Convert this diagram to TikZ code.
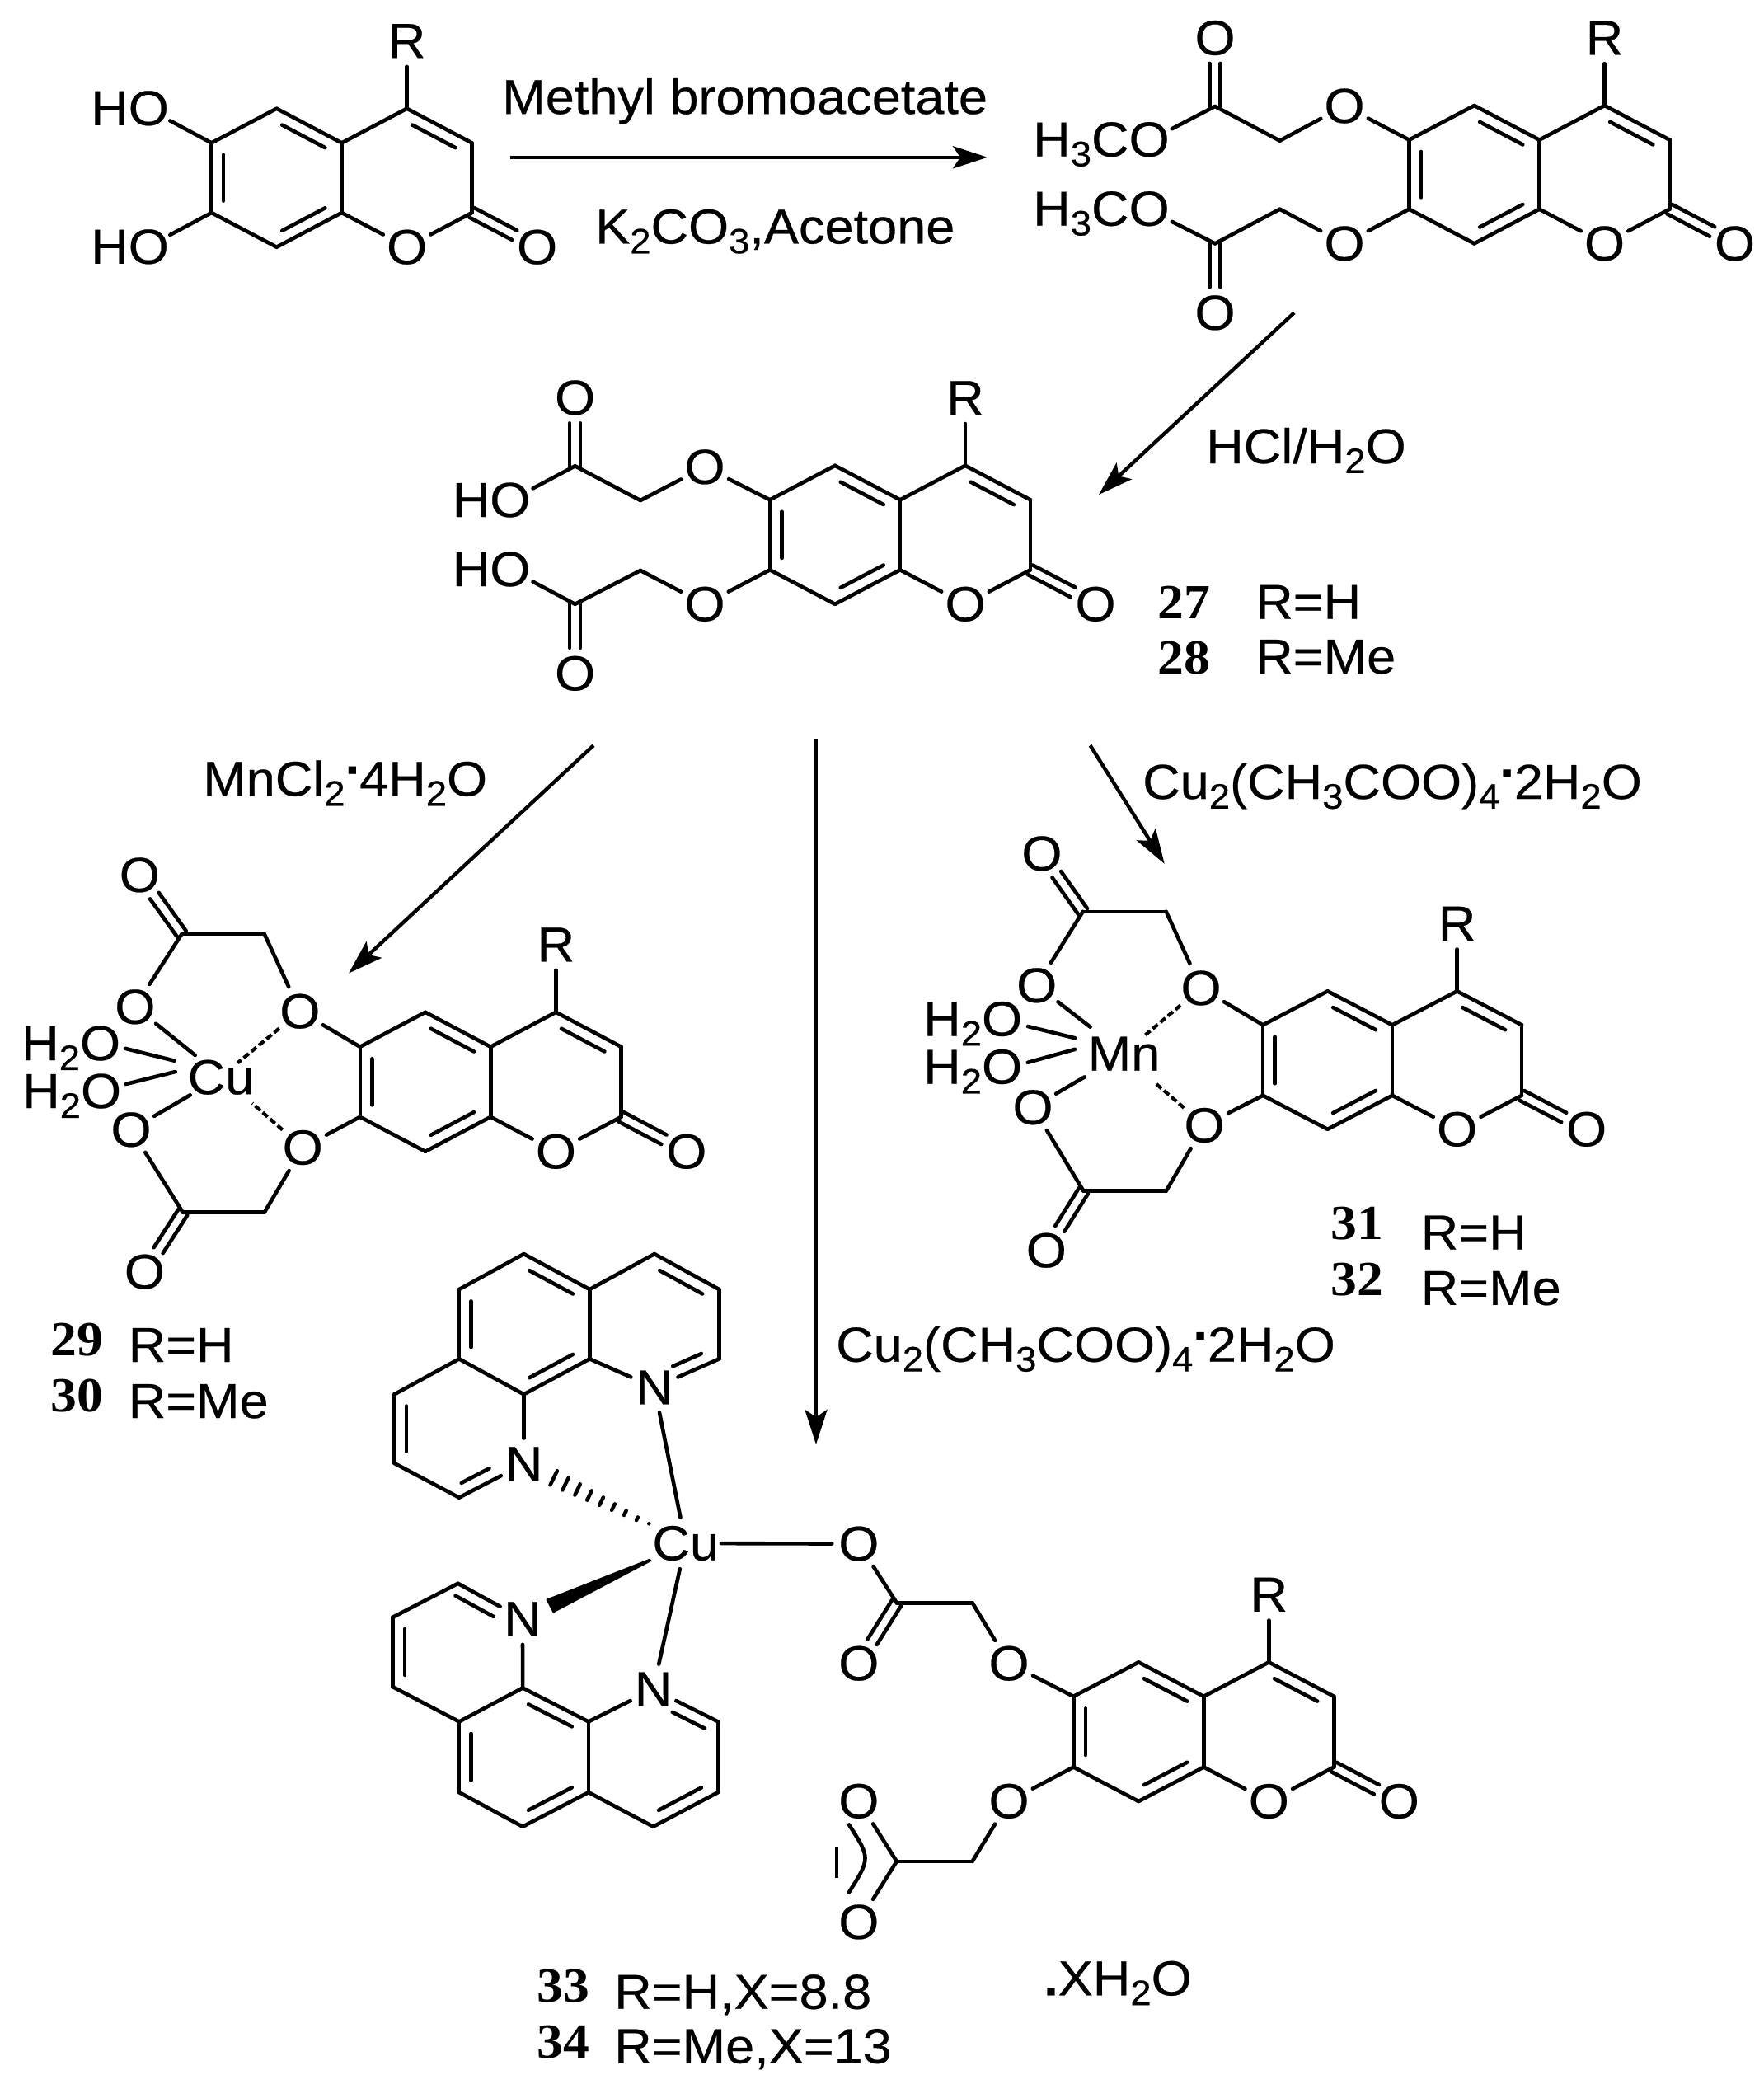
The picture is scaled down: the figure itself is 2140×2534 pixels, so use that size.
\documentclass[tikz,border=0pt]{standalone}
\usepackage{fontspec}
\setmainfont[FakeStretch=1.06,FakeBold=0.4]{Liberation Sans}
\newfontfamily\nfont[FakeStretch=1.07]{Liberation Serif}
\usetikzlibrary{calc,arrows.meta}
\newcommand\fs{\fontsize{59.5}{64}\selectfont}
\newcommand\sbs[1]{\raisebox{-.2em}{\scalebox{.72}{#1}}}
\newcommand\updot{\raisebox{.45em}{\textbf{.}}}
\newcommand\num[1]{{\nfont\bfseries #1}}
\tikzset{
  bond/.style={line width=4.6pt,line cap=round,line join=miter},
  hbond/.style={line width=4.2pt,dash pattern=on 8pt off 4pt},
  hash/.style={line width=4.5pt,line cap=round},
  rxn/.style={line width=4.4pt,-{Stealth[length=42pt,width=27pt,inset=9pt]}},
  atom/.style={circle,inner sep=0pt,minimum size=62pt,font=\fs},
  clear/.style={circle,inner sep=0pt,minimum size=62pt},
  metal/.style={rectangle,inner sep=0pt,font=\fs},
  lbl/.style={anchor=base west,inner sep=0pt,font=\fs}
}
\newcommand\bd[2]{\draw[bond] (#1) -- (#2);}
\newcommand\inbd[2]{\draw[bond] ($(#1)!.17!(#2)!14.5pt!90:(#2)$) -- ($(#2)!.17!(#1)!14.5pt!-90:(#1)$);}
\newcommand\inbdx[4]{\draw[bond] ($(#1)!#3!(#2)!14.5pt!90:(#2)$) -- ($(#2)!#4!(#1)!14.5pt!-90:(#1)$);}
\newcommand\dbo[2]{%
  \draw[bond,shorten >=31pt] ($(#1)!6.5pt!90:(#2)$) -- ($(#2)!6.5pt!-90:(#1)$);
  \draw[bond,shorten >=31pt] ($(#1)!6.5pt!-90:(#2)$) -- ($(#2)!6.5pt!90:(#1)$);}
% coumarin: prefix, x and y of C4, dx, dy, v
\newcommand\coum[6]{%
  \coordinate (#1c4) at (#2,#3);
  \coordinate (#1c3) at (#2+#4,#3+#5);
  \coordinate (#1c2) at (#2+#4,#3+#5+#6);
  \coordinate (#1a4) at (#2-#4,#3+#5);
  \coordinate (#1a8) at (#2-#4,#3+#5+#6);
  \coordinate (#1c5) at (#2-2*#4,#3);
  \coordinate (#1c8) at (#2-2*#4,#3+2*#5+#6);
  \coordinate (#1c6) at (#2-3*#4,#3+#5);
  \coordinate (#1c7) at (#2-3*#4,#3+#5+#6);
  \node[atom] (#1o1) at (#2,#3+2*#5+#6) {O};
  \node[atom] (#1ox) at (#2+2*#4,#3+2*#5+#6) {O};
  \node[atom] (#1r) at (#2,#3-82) {R};
  \bd{#1r}{#1c4}\bd{#1c4}{#1c3}\inbd{#1c3}{#1c4}\bd{#1c3}{#1c2}\bd{#1c2}{#1o1}
  \bd{#1o1}{#1a8}\bd{#1a8}{#1a4}\bd{#1a4}{#1c4}\bd{#1a4}{#1c5}\inbd{#1a4}{#1c5}
  \bd{#1c5}{#1c6}\bd{#1c6}{#1c7}\inbd{#1c6}{#1c7}\bd{#1c7}{#1c8}\bd{#1c8}{#1a8}\inbd{#1c8}{#1a8}
  \dbo{#1c2}{#1ox}
}
\begin{document}
\begin{tikzpicture}[x=1pt,y=-1pt]
\path[use as bounding box,fill=white] (0,0) rectangle (2140,2534);

% ---------- starting coumarin
\coum{a}{493.6}{131.7}{79}{41.7}{84.6}
\node[lbl] (aho1) at (110,151.8) {HO};
\node[lbl] (aho2) at (110,319.8) {HO};
\node[clear] (ao6) at (178.8,131.7) {};
\node[clear] (ao7) at (178.8,299.7) {};
\bd{ao6}{ac6}\bd{ao7}{ac7}

% ---------- first arrow
\coordinate (r1s) at (619,190.8);
\coordinate (r1e) at (1198,190.8);
\draw[rxn] (r1s) -- (r1e);
\node[lbl] (t1) at (609,138.2) {Methyl bromoacetate};
\node[lbl] (t2) at (722,295.4) {K\sbs{2}CO\sbs{3},Acetone};

% ---------- diester
\coum{b}{1946.5}{128}{79}{41.7}{84}
\node[atom] (bo6) at (1631,128.5) {O};
\node[atom] (bo7) at (1631,295.4) {O};
\coordinate (bm1) at (1552.6,170.7);
\coordinate (bm2) at (1552.6,253.7);
\coordinate (bk1) at (1474,129);
\coordinate (bk2) at (1474,295.4);
\node[atom] (bd1) at (1474,46) {O};
\node[atom] (bd2) at (1474,379.4) {O};
\node[lbl] (bh1) at (1253,189.7) {H\sbs{3}CO};
\node[lbl] (bh2) at (1253,273.7) {H\sbs{3}CO};
\node[clear] (bc1) at (1394,170.7) {};
\node[clear] (bc2) at (1394,254.7) {};
\bd{bo6}{bc6}\bd{bo7}{bc7}\bd{bo6}{bm1}\bd{bo7}{bm2}\bd{bm1}{bk1}\bd{bm2}{bk2}
\bd{bk1}{bc1}\bd{bk2}{bc2}\dbo{bk1}{bd1}\dbo{bk2}{bd2}

% ---------- second arrow
\coordinate (r2s) at (1570,379.4);
\coordinate (r2e) at (1333,600);
\draw[rxn] (r2s) -- (r2e);
\node[lbl] (t3) at (1463,562) {HCl/H\sbs{2}O};

% ---------- diacid
\coum{c}{1171}{564.8}{79}{41.5}{85}
\node[atom] (co6) at (855,566.4) {O};
\node[atom] (co7) at (855,732.8) {O};
\coordinate (cm1) at (777,607);
\coordinate (cm2) at (777,692);
\coordinate (ck1) at (697.6,565.3);
\coordinate (ck2) at (697.6,732.8);
\node[atom] (cd1) at (697.6,482.4) {O};
\node[atom] (cd2) at (697.6,816.8) {O};
\node[lbl] (ch1) at (548.5,627) {HO};
\node[lbl] (ch2) at (548.5,711) {HO};
\node[clear] (cc1) at (619,607) {};
\node[clear] (cc2) at (619,691) {};
\bd{co6}{cc6}\bd{co7}{cc7}\bd{co6}{cm1}\bd{co7}{cm2}\bd{cm1}{ck1}\bd{cm2}{ck2}
\bd{ck1}{cc1}\bd{ck2}{cc2}\dbo{ck1}{cd1}\dbo{ck2}{cd2}
\node[lbl] (n27) at (1404.5,750.7) {\num{27}};
\node[lbl] (l27) at (1523,750.7) {R=H};
\node[lbl] (n28) at (1404.5,817) {\num{28}};
\node[lbl] (l28) at (1523,817) {R=Me};

% ---------- three arrows
\coordinate (r3s) at (720,904.2);
\coordinate (r3e) at (423,1180.6);
\draw[rxn] (r3s) -- (r3e);
\coordinate (r4s) at (990,896);
\coordinate (r4e) at (990,1752);
\draw[rxn] (r4s) -- (r4e);
\coordinate (r5s) at (1322.6,904.2);
\coordinate (r5e) at (1412.7,1047.8);
\draw[rxn] (r5s) -- (r5e);
\node[lbl] (t4) at (246,965.4) {MnCl\sbs{2}\updot4H\sbs{2}O};
\node[lbl] (t5) at (1386,969) {Cu\sbs{2}(CH\sbs{3}COO)\sbs{4}\updot2H\sbs{2}O};
\node[lbl] (t6) at (1014,1651.7) {Cu\sbs{2}(CH\sbs{3}COO)\sbs{4}\updot2H\sbs{2}O};

% ---------- Cu complex (left)
\coum{d}{674.4}{1227.8}{79.2}{42}{85}
\node[atom] (do6) at (363.8,1226.7) {O};
\node[atom] (do7) at (367.2,1392) {O};
\coordinate (dm1) at (320.8,1133);
\coordinate (dk1) at (220.5,1133);
\coordinate (dm2) at (320.8,1470.6);
\coordinate (dk2) at (221.8,1470.6);
\node[atom] (dd1) at (169.3,1061.4) {O};
\node[atom] (dd2) at (175.4,1542.7) {O};
\node[atom] (do1) at (163.8,1221.3) {O};
\node[atom] (do2) at (159,1370.3) {O};
\node[metal] (dcu) at (268,1306.7) {Cu};
\node[lbl] (dw1) at (26,1286) {H\sbs{2}O};
\node[lbl] (dw2) at (27,1344) {H\sbs{2}O};
\node[clear] (dc1) at (121.7,1264.3) {};
\node[clear] (dc2) at (122.5,1322.6) {};
\coordinate (de1) at (236.7,1280);
\coordinate (de2) at (211.7,1286.7);
\coordinate (de3) at (212.7,1300);
\coordinate (de4) at (230.7,1328.3);
\coordinate (de5) at (288.3,1289.3);
\coordinate (de6) at (306,1338.3);
\bd{do6}{dc6}\bd{do7}{dc7}\bd{do6}{dm1}\bd{do7}{dm2}\bd{dm1}{dk1}\bd{dm2}{dk2}
\bd{dk1}{do1}\bd{dk2}{do2}\dbo{dk1}{dd1}\dbo{dk2}{dd2}
\bd{do1}{de1}\bd{do2}{de4}\bd{dc1}{de2}\bd{dc2}{de3}
\draw[hbond] (do6) -- (de5);
\draw[hbond] (do7) -- (de6);
\node[lbl] (n29) at (61.4,1644) {\num{29}};
\node[lbl] (l29) at (155.5,1652) {R=H};
\node[lbl] (n30) at (61.4,1712) {\num{30}};
\node[lbl] (l30) at (155.5,1720) {R=Me};

% ---------- Mn complex (right)
\coum{e}{1767.6}{1202.3}{78.5}{41}{85.5}
\node[atom] (eo6) at (1457,1198.5) {O};
\node[atom] (eo7) at (1461,1365) {O};
\coordinate (em1) at (1414.7,1105.8);
\coordinate (ek1) at (1313.7,1105.8);
\coordinate (em2) at (1414.7,1444.6);
\coordinate (ek2) at (1314.4,1444.6);
\node[atom] (ed1) at (1263.9,1035.4) {O};
\node[atom] (ed2) at (1269.3,1516.7) {O};
\node[atom] (eo1) at (1257.7,1195.3) {O};
\node[atom] (eo2) at (1253,1343.2) {O};
\node[metal] (emn) at (1363.5,1278.2) {Mn};
\node[lbl] (ew1) at (1120,1256.5) {H\sbs{2}O};
\node[lbl] (ew2) at (1120,1314.5) {H\sbs{2}O};
\node[clear] (ec1) at (1216.8,1237.5) {};
\node[clear] (ec2) at (1216.8,1297.2) {};
\coordinate (ee1) at (1322.6,1245.7);
\coordinate (ee2) at (1304.1,1259.2);
\coordinate (ee3) at (1304.1,1272.8);
\coordinate (ee4) at (1315.7,1306.4);
\coordinate (ee5) at (1389.5,1255.4);
\coordinate (ee6) at (1401,1313.4);
\bd{eo6}{ec6}\bd{eo7}{ec7}\bd{eo6}{em1}\bd{eo7}{em2}\bd{em1}{ek1}\bd{em2}{ek2}
\bd{ek1}{eo1}\bd{ek2}{eo2}\dbo{ek1}{ed1}\dbo{ek2}{ed2}
\bd{eo1}{ee1}\bd{eo2}{ee4}\bd{ec1}{ee2}\bd{ec2}{ee3}
\draw[hbond] (eo6) -- (ee5);
\draw[hbond] (eo7) -- (ee6);
\node[lbl] (n31) at (1614.7,1503) {\num{31}};
\node[lbl] (l31) at (1723.5,1515.6) {R=H};
\node[lbl] (n32) at (1614.7,1571) {\num{32}};
\node[lbl] (l32) at (1723.5,1582.8) {R=Me};

% ---------- bis-phen Cu complex
\node[metal,minimum width=86pt,minimum height=62pt] (fcu) at (831.7,1872) {Cu};
% upper phenanthroline
\coordinate (pa) at (635.5,1521.1);
\coordinate (pb) at (793.9,1521.1);
\coordinate (pc) at (715.4,1564);
\coordinate (pd) at (872.4,1564);
\coordinate (pe) at (872.4,1648.4);
\coordinate (pg) at (715.4,1648.4);
\coordinate (ph) at (557,1564);
\coordinate (pi) at (557,1648.4);
\coordinate (pj) at (635.5,1691.3);
\coordinate (pk) at (478.5,1691.3);
\coordinate (pl) at (478.5,1775);
\coordinate (pm) at (557,1816.6);
\node[atom] (pn2) at (793.9,1683) {N};
\node[atom] (pn1) at (635.5,1775.7) {N};
\bd{ph}{pa}\bd{pa}{pc}\inbd{pc}{pa}\bd{pc}{pb}\bd{pb}{pd}\inbd{pd}{pb}\bd{pd}{pe}
\bd{pe}{pn2}\inbdx{pn2}{pe}{.36}{.2}\bd{pg}{pn2}\bd{pc}{pg}\bd{pg}{pj}\inbd{pj}{pg}
\bd{ph}{pi}\inbd{ph}{pi}\bd{pi}{pj}\bd{pi}{pk}\bd{pk}{pl}\inbd{pk}{pl}\bd{pl}{pm}
\bd{pm}{pn1}\inbdx{pm}{pn1}{.12}{.45}\bd{pj}{pn1}
% lower phenanthroline
\coordinate (q1) at (555.6,1920.8);
\coordinate (q2) at (476.5,1961.7);
\coordinate (q3) at (476.5,2046.2);
\coordinate (q4) at (557,2088.4);
\coordinate (q5) at (634.1,2047.5);
\coordinate (q6) at (714,2088.4);
\coordinate (q7) at (871,2088.4);
\coordinate (q8) at (871,2174.1);
\coordinate (q9) at (792.5,2215.7);
\coordinate (q10) at (714,2174.1);
\coordinate (q11) at (634.1,2215.7);
\coordinate (q12) at (557,2174.1);
\node[atom] (qn3) at (634,1963.7) {N};
\node[atom] (qn4) at (792.5,2049) {N};
\bd{qn3}{q1}\inbdx{qn3}{q1}{.36}{.05}\bd{q1}{q2}\bd{q2}{q3}\inbd{q2}{q3}\bd{q3}{q4}
\bd{q4}{q12}\inbd{q4}{q12}\bd{q4}{q5}\bd{q5}{q6}\inbd{q6}{q5}\bd{q5}{qn3}
\bd{q6}{q10}\bd{q6}{qn4}\bd{qn4}{q7}\inbdx{q7}{qn4}{.12}{.38}\bd{q7}{q8}
\bd{q8}{q9}\inbd{q9}{q8}\bd{q9}{q10}\bd{q10}{q11}\inbd{q11}{q10}\bd{q11}{q12}
% metal bonds
\bd{pn2}{fcu}\bd{qn4}{fcu}
\coordinate (hs) at (671.7,1792.8);
\coordinate (he) at (787.3,1849.3);
\foreach \t in {0,.125,.25,.375,.5,.625,.75,.875,1}{
  \pgfmathsetmacro\hw{8.5*(1-\t)+1}
  \draw[hash] ($(hs)!\t!(he)!\hw pt!90:(he)$) -- ($(hs)!\t!(he)!\hw pt!-90:(he)$);
}
\coordinate (w0) at (788.5,1890.5);
\coordinate (w3) at (790.7,1893.5);
\coordinate (w1) at (662.3,1940);
\coordinate (w2) at (671,1956.7);
\fill (w0) -- (w1) -- (w2) -- (w3) -- cycle;

% ---------- lower coumarin with carboxylates
\coum{f}{1539.3}{2016.3}{79}{41.5}{85.7}
\node[atom] (fo6) at (1224,2017.7) {O};
\node[atom] (fo7) at (1224,2184.8) {O};
\coordinate (fm1) at (1179.6,1944.2);
\coordinate (fk1) at (1087.8,1944.2);
\coordinate (fm2) at (1179.6,2257.9);
\coordinate (fk2) at (1087.8,2257.9);
\node[atom] (fo1) at (1041.8,1872.6) {O};
\node[atom] (fd1) at (1041.8,2017.7) {O};
\node[atom] (fo2) at (1041.8,2184.8) {O};
\node[atom] (fd2) at (1041.8,2331.4) {O};
\bd{fo6}{fc6}\bd{fo7}{fc7}\bd{fo6}{fm1}\bd{fo7}{fm2}\bd{fm1}{fk1}\bd{fm2}{fk2}
\bd{fk1}{fo1}\dbo{fk1}{fd1}\bd{fk2}{fo2}\bd{fk2}{fd2}
\bd{fcu}{fo1}
\coordinate (arcA) at (1030,2213.4);
\coordinate (arcC) at (1056,2254);
\coordinate (arcB) at (1030,2295.3);
\draw[bond] (arcA) .. controls (arcC) .. (arcB);
\coordinate (barA) at (1014.8,2240);
\coordinate (barB) at (1014.8,2277.5);
\draw[line width=4.6pt] (barA) -- (barB);

% ---------- bottom labels
\node[lbl] (n33) at (651.2,2428.8) {\num{33}};
\node[lbl] (l33) at (745,2436.7) {R=H,X=8.8};
\node[lbl] (n34) at (651.2,2496) {\num{34}};
\node[lbl] (l34) at (745,2502.6) {R=Me,X=13};
\node[lbl] (xw) at (1266,2420.3) {\textbf{.}XH\sbs{2}O};
\end{tikzpicture}
\end{document}
